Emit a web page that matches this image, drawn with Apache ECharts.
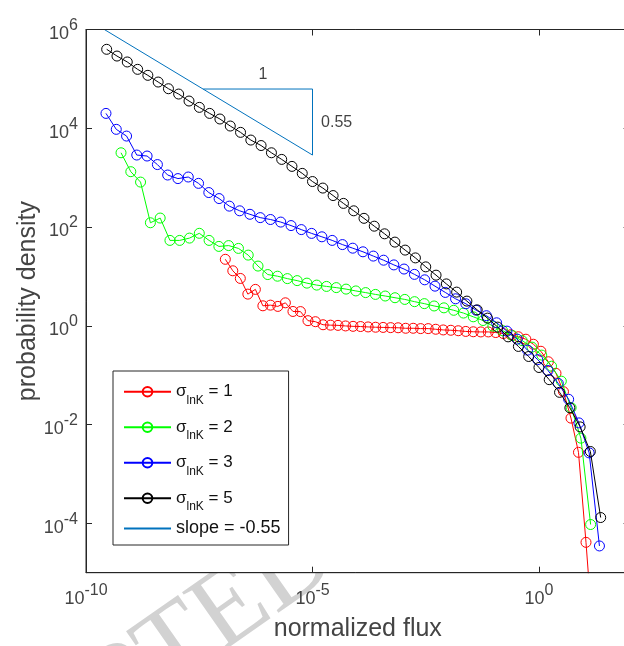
<!DOCTYPE html>
<html><head><meta charset="utf-8">
<script src="https://cdn.jsdelivr.net/npm/echarts@6/dist/echarts.min.js"></script>
<style>html,body{margin:0;padding:0;background:#fff}#c{width:624px;height:646px}</style>
</head><body><div id="c"></div>
<script>
const seriesNames = ['σlnK = 1', 'σlnK = 2', 'σlnK = 3', 'σlnK = 5'];
const seriesColors = ['#ff0000', '#00ff00', '#0000ff', '#000000'];
const slopeName = 'slope = -0.55';

const redX = [1.19e-7,1.74e-7,2.55e-7,3.74e-7,5.48e-7,8.03e-7,1.18e-6,1.72e-6,2.52e-6,3.70e-6,5.42e-6,7.94e-6,1.16e-5,1.71e-5,2.50e-5,3.66e-5,5.36e-5,7.85e-5,1.15e-4,1.69e-4,2.47e-4,3.62e-4,5.31e-4,7.77e-4,1.14e-3,1.67e-3,2.44e-3,3.58e-3,5.25e-3,7.69e-3,1.13e-2,1.65e-2,2.42e-2,3.54e-2,5.19e-2,7.60e-2,0.111,0.163,0.239,0.350,0.513,0.752,1.10,1.61,2.37,3.47,5.08,7.44,10.9,16.0];
const redY = [22.2,13.0,9.10,4.38,5.46,2.54,2.62,2.47,2.92,1.95,1.94,1.27,1.21,1.05,1.03,1.02,0.993,0.975,0.966,0.948,0.935,0.927,0.918,0.912,0.891,0.891,0.877,0.877,0.851,0.824,0.812,0.794,0.769,0.757,0.751,0.751,0.730,0.697,0.659,0.600,0.535,0.423,0.305,0.187,0.109,0.0463,0.0135,0.00274,4.12e-5,3.7e-7];

const greenX = [5.93e-10,9.75e-10,1.60e-9,2.64e-9,4.34e-9,7.13e-9,1.17e-8,1.93e-8,3.17e-8,5.21e-8,8.57e-8,1.41e-7,2.32e-7,3.81e-7,6.27e-7,1.03e-6,1.69e-6,2.79e-6,4.58e-6,7.53e-6,1.24e-5,2.04e-5,3.35e-5,5.51e-5,9.06e-5,1.49e-4,2.45e-4,4.03e-4,6.62e-4,1.09e-3,1.79e-3,2.94e-3,4.84e-3,7.96e-3,1.31e-2,2.15e-2,3.54e-2,5.82e-2,9.57e-2,0.157,0.259,0.426,0.700,1.15,1.89,3.11,5.12,8.41,13.8];
const greenY = [3190,1320,813,122,152,53.6,53.6,59.7,74.6,53.6,40.5,42.1,36.9,27.0,16.2,10.9,10.1,9.02,8.22,7.31,6.67,6.27,5.93,5.53,5.08,4.70,4.32,4.01,3.70,3.42,3.08,2.81,2.52,2.31,2.06,1.81,1.52,1.28,0.984,0.798,0.632,0.500,0.370,0.255,0.152,0.0757,0.0220,0.0053,9.46e-5];

const blueX = [2.76e-10,4.66e-10,7.86e-10,1.32e-9,2.23e-9,3.77e-9,6.35e-9,1.07e-8,1.81e-8,3.05e-8,5.14e-8,8.67e-8,1.46e-7,2.47e-7,4.16e-7,7.02e-7,1.18e-6,1.99e-6,3.36e-6,5.66e-6,9.55e-6,1.61e-5,2.72e-5,4.58e-5,7.73e-5,1.30e-4,2.20e-4,3.71e-4,6.25e-4,1.05e-3,1.78e-3,3.00e-3,5.06e-3,8.53e-3,1.44e-2,2.43e-2,4.09e-2,6.90e-2,0.116,0.196,0.330,0.557,0.940,1.58,2.67,4.51,7.60,12.8,21.6];
const blueY = [2.00e4,9510,6950,2870,2740,1840,1130,957,1030,766,499,377,265,213,181,155,142,126,107,88.7,74.3,63.4,53.6,44.1,37.3,31.5,25.8,21.3,17.1,14.1,11.0,8.53,6.35,4.74,3.52,2.79,2.07,1.60,1.15,0.780,0.537,0.321,0.206,0.124,0.0679,0.0325,0.0108,0.00267,3.48e-5];

const blackX = [2.86e-10,4.83e-10,8.15e-10,1.38e-9,2.32e-9,3.92e-9,6.61e-9,1.11e-8,1.88e-8,3.18e-8,5.36e-8,9.04e-8,1.53e-7,2.58e-7,4.35e-7,7.33e-7,1.24e-6,2.09e-6,3.52e-6,5.94e-6,1.00e-5,1.69e-5,2.85e-5,4.82e-5,8.13e-5,1.37e-4,2.31e-4,3.90e-4,6.59e-4,1.11e-3,1.87e-3,3.16e-3,5.34e-3,9.01e-3,1.52e-2,2.56e-2,4.33e-2,7.30e-2,0.123,0.208,0.351,0.592,0.998,1.68,2.84,4.80,8.09,13.6,23.0];
const blackY = [3.97e5,2.90e5,2.20e5,1.56e5,1.18e5,8.63e4,6.32e4,4.93e4,3.56e4,2.65e4,2.00e4,1.54e4,1.11e4,8260,5770,4470,3190,2340,1690,1220,834,615,434,301,213,150,104,72.9,49.5,34.1,23.7,15.6,10.6,7.05,4.81,3.16,2.10,1.43,0.94,0.597,0.382,0.239,0.143,0.0811,0.0449,0.0218,0.00897,0.00285,1.31e-4];

const slopeX = [2.54e-10, 1e-5, 1e-5, 3.88e-8];
const slopeY = [1e6, 2.87e3, 6.23e4, 6.23e4];
const noteText = ['1', '0.55'];
const noteX = [8.07e-7, 3.42e-5];
const noteY = [1.25e5, 1.28e4];

const xTicks = [1e-10, 1e-5, 1];
const yTicks = [1e-4, 1e-2, 1, 1e2, 1e4, 1e6];
const watermarkText = 'ACCEPTED MANUSCRIPT';

const FONT = "'Liberation Sans', Arial, Helvetica, sans-serif";
const AX = '#262626';
const LBL = '#444444';

const xs = [redX, greenX, blueX, blackX];
const ys = [redY, greenY, blueY, blackY];

function powLabel(v) {
  const e = Math.round(Math.log10(v));
  return '{b|10}{e|' + e + '}';
}
const powRich = {
  b: { fontSize: 18, color: LBL, fontFamily: FONT, padding: [9, 0, 0, 0] },
  e: { fontSize: 16, color: LBL, fontFamily: FONT, padding: [0, 0, 8, 0] }
};

function mkX(pos, showLabel) {
  return {
    type: 'log', logBase: 10, min: 1e-10, max: 1e2, position: pos, gridIndex: 0, z: 10,
    axisLine: { show: true, onZero: false, lineStyle: { color: AX, width: 1 } },
    axisTick: { show: true, inside: true, length: 6, customValues: xTicks, lineStyle: { color: AX } },
    minorTick: { show: false },
    splitLine: { show: false },
    axisLabel: { show: showLabel, customValues: xTicks, margin: 8, formatter: powLabel, rich: powRich },
    name: showLabel ? 'normalized flux' : '',
    nameLocation: 'middle', nameGap: 44, nameMoveOverlap: false,
    nameTextStyle: { fontSize: 25, color: LBL, fontFamily: FONT }
  };
}
function mkY(pos, showLabel) {
  return {
    type: 'log', logBase: 10, min: 1e-5, max: 1e6, position: pos, gridIndex: 0, z: 10,
    axisLine: { show: true, onZero: false, lineStyle: { color: AX, width: 1 } },
    axisTick: { show: true, inside: true, length: 6, customValues: yTicks, lineStyle: { color: AX } },
    minorTick: { show: false },
    splitLine: { show: false },
    axisLabel: { show: showLabel, customValues: yTicks, margin: 8, formatter: powLabel, rich: powRich },
    name: showLabel ? 'probability density' : '',
    nameLocation: 'middle', nameGap: 45, nameMoveOverlap: false,
    nameTextStyle: { fontSize: 25, color: LBL, fontFamily: FONT }
  };
}

const series = seriesNames.map((name, k) => ({
  name: name, type: 'line', xAxisIndex: 0, yAxisIndex: 0,
  data: xs[k].map((x, i) => [x, ys[k][i]]),
  symbol: 'circle', symbolSize: 10, showAllSymbol: true,
  lineStyle: { color: seriesColors[k], width: 1 },
  itemStyle: { color: 'rgba(255,255,255,0)', borderColor: seriesColors[k], borderWidth: 1 },
  emphasis: { disabled: true }, clip: true, z: 3 + k
}));
series.push({
  name: slopeName, type: 'line', xAxisIndex: 0, yAxisIndex: 0,
  data: slopeX.map((x, i) => [x, slopeY[i]]),
  symbol: 'none', lineStyle: { color: '#0072bd', width: 1 }, itemStyle: { color: '#0072bd' },
  emphasis: { disabled: true }, clip: true, z: 2
});
series.push({
  name: 'notes', type: 'scatter', xAxisIndex: 0, yAxisIndex: 0,
  data: noteX.map((x, i) => ({ value: [x, noteY[i]], label: { formatter: noteText[i] } })),
  symbolSize: 0, silent: true,
  label: { show: true, position: 'inside', fontSize: 16, color: '#111', fontFamily: FONT }
});

const legendData = seriesNames.map(n => ({ name: n }));
legendData.push({ name: slopeName, itemStyle: { opacity: 0 },
  textStyle: { fontSize: 18, lineHeight: 25, fontFamily: FONT, color: '#111' } });

const option = {
  animation: false,
  backgroundColor: '#fff',
  graphic: [{
    type: 'text', x: -110, y: 916, rotation: 0.61, z: -100, silent: true,
    style: { text: watermarkText, font: "110px 'Liberation Serif', 'Times New Roman', serif",
             fill: '#d2d2d2', textAlign: 'left', textVerticalAlign: 'bottom' }
  }],
  grid: { left: 86, top: 29.5, width: 543.6, height: 543.2, outerBoundsMode: 'none', containLabel: false,
          show: true, backgroundColor: '#fff', borderColor: AX, borderWidth: 1 },
  xAxis: [mkX('bottom', true), mkX('top', false)],
  yAxis: [mkY('left', true), mkY('right', false)],
  legend: {
    data: legendData,
    orient: 'vertical', left: 113, top: 371,
    itemWidth: 47, itemHeight: 12, itemGap: 0,
    padding: [3, 8, 4, 10],
    selectedMode: false,
    backgroundColor: '#fff', borderColor: AX, borderWidth: 1, borderRadius: 0,
    textStyle: {
      fontFamily: FONT, fontSize: 17, color: '#111', lineHeight: 25,
      rich: {
        s: { fontFamily: FONT, fontSize: 17, color: '#111', lineHeight: 35.5 },
        sub: { fontFamily: FONT, fontSize: 12, color: '#111', padding: [17, 0, 0, 0] }
      }
    },
    formatter: function (name) {
      if (name.charAt(0) === 'σ') return '{s|σ}{sub|lnK}{s|' + name.slice(4) + '}';
      return name;
    }
  },
  series: series
};
const chart = echarts.init(document.getElementById('c'), null, { renderer: 'canvas' });
chart.setOption(option);
</script>
</body></html>
